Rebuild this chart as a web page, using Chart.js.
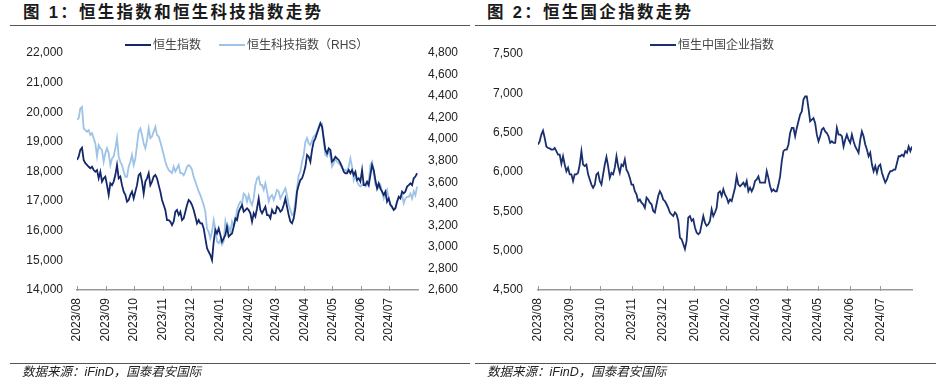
<!DOCTYPE html>
<html>
<head>
<meta charset="utf-8">
<script src="https://cdn.jsdelivr.net/npm/chart.js@4.4.1/dist/chart.umd.min.js"></script>
<style>
  body { margin: 0; width: 941px; height: 388px; background: #fff; position: relative; overflow: hidden;
         font-family: "Liberation Sans", "Noto Sans CJK SC", sans-serif; }
  .title { position: absolute; top: 4px; line-height: 17px; font-weight: bold; font-size: 16.5px;
           letter-spacing: 2.3px; color: #1a1a1a; white-space: nowrap; }
  .rule { position: absolute; height: 0; border-top: 1.5px solid #555; }
  .src { position: absolute; top: 365px; line-height: 14px; font-style: italic; font-size: 12.5px;
         color: #222; white-space: nowrap; }
  .legend { position: absolute; top: 38px; line-height: 14px; font-size: 12px; color: #444; white-space: nowrap; }
  .legend i { display: inline-block; width: 26px; height: 0; border-top: 2px solid; vertical-align: middle;
              margin-right: 2px; position: relative; top: -1px; }
  canvas { position: absolute; top: 0; }
</style>
</head>
<body>
<div class="title" style="left:23px">图 1：恒生指数和恒生科技指数走势</div>
<div class="title" style="left:487px">图 2：恒生国企指数走势</div>
<div class="rule" style="left:10px;width:460px;top:25px"></div>
<div class="rule" style="left:475px;width:461px;top:25px"></div>

<canvas id="c1" width="470" height="388" style="left:0;width:470px;height:388px"></canvas>
<canvas id="c2" width="471" height="388" style="left:470px;width:471px;height:388px"></canvas>

<div class="legend" style="left:125px"><i style="border-color:#13286b"></i>恒生指数</div>
<div class="legend" style="left:219px"><i style="border-color:#9dc3e6"></i>恒生科技指数（RHS）</div>
<div class="legend" style="left:650px"><i style="border-color:#1a2f6e"></i>恒生中国企业指数</div>

<div class="rule" style="left:10px;width:460px;top:363px"></div>
<div class="rule" style="left:475px;width:461px;top:363px"></div>
<div class="src" style="left:22px">数据来源：iFinD，国泰君安国际</div>
<div class="src" style="left:487px">数据来源：iFinD，国泰君安国际</div>

<script>
const monthLabels = ['2023/08', '2023/09', '2023/10', '2023/11', '2023/12', '2024/01',
                     '2024/02', '2024/03', '2024/04', '2024/05', '2024/06', '2024/07'];

const hsiTicks = [14000, 15000, 16000, 17000, 18000, 19000, 20000, 21000, 22000];
const hstechTicks = [2600, 2800, 3000, 3200, 3400, 3600, 3800, 4000, 4200, 4400, 4600, 4800];
const hsceiTicks = [4500, 5000, 5500, 6000, 6500, 7000, 7500];

// 恒生指数, sampled evenly from 2023/08/01 to 2024/07/31
const hsiValues = [
  18390, 18500, 18730, 18800, 18390, 18280, 18220, 18160, 18110, 18160,
  18050, 17990, 18050, 17770, 17990, 17660, 17770, 17830, 17540, 17210,
  17600, 17540, 17660, 17880, 18220, 17770, 17830, 17540, 17320, 17210,
  16980, 17040, 17210, 17320, 17090, 17320, 17540, 17880, 17940, 17660,
  17260, 17660, 17770, 17940, 17540, 17660, 17830, 17880, 17770, 17540,
  17320, 17040, 16870, 16700, 16360, 16360, 16310, 16190, 16310, 16640,
  16700, 16530, 16640, 16360, 16420, 16640, 16870, 17040, 16980, 16870,
  16700, 16480, 16250, 16360, 16250, 16250, 16080, 15740, 15410, 15290,
  15180, 15010, 15630, 16030, 15910, 16080, 15860, 15630, 15740, 15860,
  16140, 15800, 15860, 15910, 16140, 16420, 16360, 16640, 16760, 16870,
  16640, 16700, 16760, 16700, 16590, 16310, 16590, 16480, 16760, 17090,
  16700, 16590, 16700, 16810, 16530, 16530, 16420, 16700, 16590, 16590,
  16810, 16760, 16640, 16700, 16870, 17090, 16810, 16530, 16310, 16250,
  16420, 16760, 17320, 17540, 17710, 17770, 17940, 18160, 18560, 18500,
  18330, 18730, 19010, 19120, 19290, 19460, 19630, 19510, 19120, 18730,
  18610, 18780, 18730, 18330, 18390, 18500, 18440, 18390, 18280, 18160,
  17990, 17940, 17940, 18050, 17940, 18050, 17880, 17990, 17710, 17770,
  17660, 18050, 17540, 17540, 17660, 17540, 17880, 18220, 18050, 17710,
  17430, 17600, 17430, 17320, 17210, 17320, 16980, 17090, 16870, 16810,
  16700, 16760, 16980, 17150, 17090, 17320, 17260, 17320, 17490, 17540,
  17600, 17540, 17770, 17830, 17940
];

// 恒生科技指数 (RHS), same sampling
const hstechValues = [
  4180, 4195, 4285, 4300, 4100, 4085, 4070, 4085, 4040, 4055,
  4010, 3960, 3840, 3945, 3915, 3900, 3790, 3870, 3915, 3870,
  3760, 3820, 3840, 3915, 4010, 3840, 3790, 3760, 3700, 3650,
  3650, 3745, 3790, 3855, 3760, 3820, 3945, 4070, 4100, 4040,
  3960, 3915, 3990, 4100, 4010, 4025, 4070, 4115, 4040, 4025,
  3975, 3915, 3855, 3790, 3745, 3715, 3700, 3685, 3745, 3700,
  3730, 3760, 3685, 3685, 3665, 3700, 3745, 3760, 3745, 3715,
  3650, 3605, 3560, 3515, 3480, 3435, 3390, 3325, 3170, 3140,
  3080, 3140, 3250, 3170, 3050, 3035, 3065, 3020, 3050, 3235,
  3155, 3190, 3140, 3235, 3190, 3235, 3345, 3390, 3420, 3405,
  3495, 3480, 3420, 3480, 3420, 3390, 3450, 3575, 3635, 3650,
  3575, 3575, 3530, 3590, 3515, 3420, 3465, 3480, 3435, 3480,
  3530, 3515, 3450, 3480, 3515, 3545, 3480, 3390, 3345, 3295,
  3310, 3420, 3545, 3665, 3700, 3790, 3855, 3975, 4010, 3960,
  3945, 3990, 4025, 4040, 4070, 4115, 4145, 4145, 3975, 3855,
  3840, 3900, 3840, 3745, 3775, 3820, 3790, 3775, 3760, 3730,
  3715, 3715, 3700, 3745, 3820, 3745, 3620, 3665, 3605, 3575,
  3560, 3575, 3590, 3560, 3575, 3605, 3760, 3790, 3685, 3575,
  3560, 3545, 3575, 3515, 3450, 3495, 3530, 3450, 3405, 3360,
  3345, 3360, 3420, 3450, 3465, 3480, 3405, 3450, 3465, 3465,
  3495, 3450, 3515, 3480, 3560
];

// 恒生中国企业指数, sampled evenly from 2023/08/01 to 2024/08/01
const hsceiValues = [
  6350, 6390, 6475, 6525, 6435, 6325, 6305, 6300, 6285, 6285,
  6305, 6265, 6220, 6220, 6105, 6200, 6095, 6010, 6055, 5970,
  5970, 5885, 5970, 5970, 5990, 6095, 6265, 6095, 6075, 6095,
  5970, 5905, 5840, 5800, 5840, 5970, 5990, 5885, 5840, 5970,
  6095, 6190, 6075, 5925, 5990, 5970, 6055, 6200, 6075, 5990,
  6095, 6075, 6160, 6030, 5990, 5925, 5840, 5840, 5755, 5715,
  5630, 5650, 5610, 5590, 5545, 5675, 5650, 5610, 5590, 5505,
  5485, 5590, 5695, 5755, 5715, 5650, 5630, 5590, 5545, 5485,
  5460, 5440, 5485, 5460, 5380, 5165, 5145, 5085, 5020, 5125,
  5420, 5440, 5380, 5400, 5295, 5230, 5210, 5230, 5335, 5440,
  5355, 5315, 5335, 5380, 5525, 5440, 5485, 5545, 5735, 5755,
  5695, 5780, 5715, 5675, 5610, 5650, 5630, 5715, 5800, 5945,
  5840, 5820, 5840, 5865, 5820, 5885, 5755, 5800, 5755, 5800,
  5885, 5905, 5945, 5865, 5865, 5865, 5865, 6010, 5925, 5820,
  5755, 5780, 5755, 5755, 5840, 5945, 6135, 6265, 6285, 6285,
  6350, 6495, 6560, 6560, 6455, 6560, 6645, 6730, 6770, 6920,
  6960, 6960, 6810, 6645, 6665, 6685, 6620, 6475, 6390, 6455,
  6540, 6560, 6515, 6495, 6455, 6370, 6390, 6370, 6370, 6560,
  6475, 6475, 6455, 6325, 6410, 6475, 6410, 6370, 6475, 6390,
  6325, 6285, 6245, 6410, 6515, 6455, 6350, 6285, 6200, 6245,
  6095, 6010, 6075, 5990, 6075, 6095, 5990, 5925, 5865, 5905,
  5970, 6010, 6010, 6030, 6030, 6115, 6200, 6200, 6220, 6200,
  6265, 6245, 6325, 6265, 6325
];

const START = Date.UTC(2023, 7, 1);
function dayOf(label) {
  const [y, m] = label.split('/').map(Number);
  return (Date.UTC(y, m - 1, 1) - START) / 864e5;
}
const monthDays = monthLabels.map(dayOf);
const axisEnd = dayOf('2024/08');

function toPoints(values, lastDay) {
  return values.map((v, i) => ({ x: i * lastDay / (values.length - 1), y: v }));
}

const tickFont = { family: '"Liberation Sans", Arial, sans-serif', size: 12 };
const fmt = v => v.toLocaleString('en-US');

// small month ticks crossing the x axis
const monthMarks = {
  id: 'monthMarks',
  afterDraw(chart) {
    const xs = chart.scales.x, ctx = chart.ctx, y0 = chart.chartArea.bottom;
    ctx.save();
    ctx.strokeStyle = '#999';
    ctx.lineWidth = 1;
    xs.ticks.forEach(t => {
      const px = Math.round(xs.getPixelForValue(t.value)) + 0.5;
      ctx.beginPath();
      ctx.moveTo(px, y0 - 4);
      ctx.lineTo(px, y0 + 1);
      ctx.stroke();
    });
    ctx.restore();
  }
};

function xAxis() {
  return {
    type: 'linear', min: 0, max: axisEnd,
    afterBuildTicks: s => { s.ticks = monthDays.map(v => ({ value: v })); },
    afterFit: s => { s.height = 98; },
    grid: { display: false, drawTicks: false },
    border: { display: true, color: '#999', width: 1.5 },
    ticks: {
      autoSkip: false, minRotation: 90, maxRotation: 90, padding: 8,
      color: '#222', font: tickFont,
      callback: (v, i) => monthLabels[i]
    }
  };
}

function yAxis(pos, ticks, width, padding) {
  return {
    position: pos, min: ticks[0], max: ticks[ticks.length - 1],
    afterBuildTicks: s => { s.ticks = ticks.map(v => ({ value: v })); },
    afterFit: s => { s.width = width; },
    grid: { display: false, drawTicks: false },
    border: { display: false },
    ticks: { padding: padding, color: '#222', font: tickFont, callback: fmt }
  };
}

const common = {
  responsive: false,
  animation: false,
  devicePixelRatio: 1,
  plugins: { legend: { display: false }, tooltip: { enabled: false } },
  elements: { point: { radius: 0 }, line: { tension: 0, borderWidth: 1.8 } }
};

new Chart(document.getElementById('c1'), {
  type: 'line',
  data: {
    datasets: [
      { label: '恒生指数', data: toPoints(hsiValues, axisEnd - 1), borderColor: '#13286b', yAxisID: 'yL' },
      { label: '恒生科技指数（RHS）', data: toPoints(hstechValues, axisEnd - 1), borderColor: '#9dc3e6', yAxisID: 'yR' }
    ]
  },
  options: {
    ...common,
    layout: { padding: { top: 53, left: 0, right: 0, bottom: 0 } },
    scales: {
      x: xAxis(),
      yL: yAxis('left', hsiTicks, 77, 14),
      yR: yAxis('right', hstechTicks, 52, 10)
    }
  },
  plugins: [monthMarks]
});

new Chart(document.getElementById('c2'), {
  type: 'line',
  data: {
    datasets: [
      { label: '恒生中国企业指数', data: toPoints(hsceiValues, axisEnd), borderColor: '#1a2f6e', yAxisID: 'y' }
    ]
  },
  options: {
    ...common,
    layout: { padding: { top: 54, left: 0, right: 29, bottom: 0 } },
    scales: {
      x: xAxis(),
      y: yAxis('left', hsceiTicks, 68, 15)
    }
  },
  plugins: [monthMarks]
});
</script>
</body>
</html>
